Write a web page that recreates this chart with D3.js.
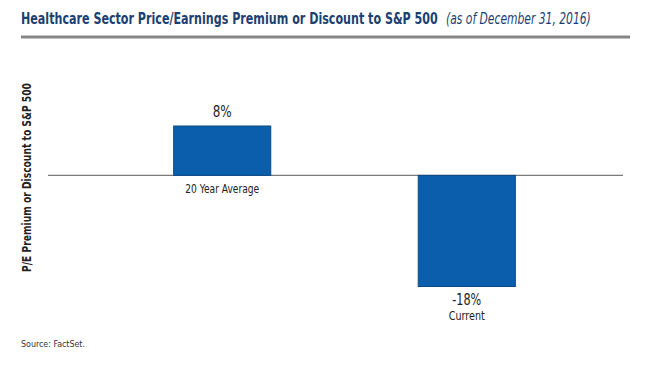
<!DOCTYPE html>
<html><head><meta charset="utf-8">
<script src="https://cdn.jsdelivr.net/npm/d3@7"></script>
<style>
body{margin:0;background:#fff;}
text{font-family:"Liberation Sans Narrow","DejaVu Sans Condensed","Roboto",sans-serif;}
</style></head>
<body>
<svg id="c" width="649" height="367"></svg>
<script>
const categories = ["20 Year Average", "Current"];
const values = [8, -18];
const valueLabels = ["8%", "-18%"];
const titleMain = "Healthcare Sector Price/Earnings Premium or Discount to S&P 500";
const titleSub = "(as of December 31, 2016)";
const yTitle = "P/E Premium or Discount to S&P 500";
const source = "Source: FactSet.";

const svg = d3.select("#c");

// title pieces, horizontally scaled to the reference's widths
function fitText(sel, x0, yb, w) {
  const n = sel.node().getComputedTextLength();
  sel.attr("transform", `translate(${x0},${yb}) scale(${w / n},1)`);
}
const t1 = svg.append("text").attr("font-size", 15.5)
  .attr("font-weight", "bold").attr("fill", "#1d3f72").text(titleMain);
fitText(t1, 21, 24, 417);
const t2 = svg.append("text").attr("font-size", 15.5)
  .attr("font-style", "italic").attr("fill", "#1d3f72").text(titleSub);
fitText(t2, 446, 24, 145);

svg.append("line").attr("x1", 21).attr("x2", 630).attr("y1", 37).attr("y2", 37)
  .attr("stroke", "#858585").attr("stroke-width", 3);

const x = d3.scaleBand().domain(categories).range([57, 632]).paddingInner(0.603).paddingOuter(0.477);
const y = d3.scaleLinear().domain([-18, 8]).range([286.5, 126]);

// zero line
svg.append("line").attr("x1", 48).attr("x2", 623).attr("y1", y(0)).attr("y2", y(0))
  .attr("stroke", "#7a7a7a").attr("stroke-width", 1.2);

svg.selectAll("rect.bar").data(values).join("rect").attr("class", "bar")
  .attr("x", (d, i) => x(categories[i]))
  .attr("width", x.bandwidth())
  .attr("y", d => y(Math.max(0, d)))
  .attr("height", d => Math.abs(y(d) - y(0)))
  .attr("fill", "#0a5eac").attr("stroke", "#0b4a88").attr("stroke-width", 1);

// value labels
svg.selectAll("text.val").data(values).join("text").attr("class", "val")
  .attr("x", (d, i) => x(categories[i]) + x.bandwidth() / 2)
  .attr("y", d => d >= 0 ? y(d) - 9 : y(d) + 18)
  .attr("text-anchor", "middle").attr("font-size", 15).attr("fill", "#222")
  .attr("textLength", (d, i) => i === 0 ? 19 : 29).attr("lengthAdjust", "spacingAndGlyphs")
  .text((d, i) => valueLabels[i]);

// category labels
svg.selectAll("text.cat").data(values).join("text").attr("class", "cat")
  .attr("x", (d, i) => x(categories[i]) + x.bandwidth() / 2)
  .attr("y", d => d >= 0 ? y(0) + 18 : y(d) + 33)
  .attr("text-anchor", "middle").attr("font-size", 12.5).attr("fill", "#222")
  .attr("textLength", (d, i) => i === 0 ? 74 : 36).attr("lengthAdjust", "spacingAndGlyphs")
  .text((d, i) => categories[i]);

// y title
svg.append("text").attr("transform", `translate(31,177.5) rotate(-90)`)
  .attr("text-anchor", "middle").attr("font-size", 12).attr("font-weight", "bold").attr("fill", "#222")
  .attr("textLength", 189).attr("lengthAdjust", "spacingAndGlyphs")
  .text(yTitle);

svg.append("text").attr("x", 21).attr("y", 347).attr("font-size", 8.5).attr("fill", "#333")
  .attr("textLength", 64).attr("lengthAdjust", "spacingAndGlyphs").text(source);
</script>
</body></html>
